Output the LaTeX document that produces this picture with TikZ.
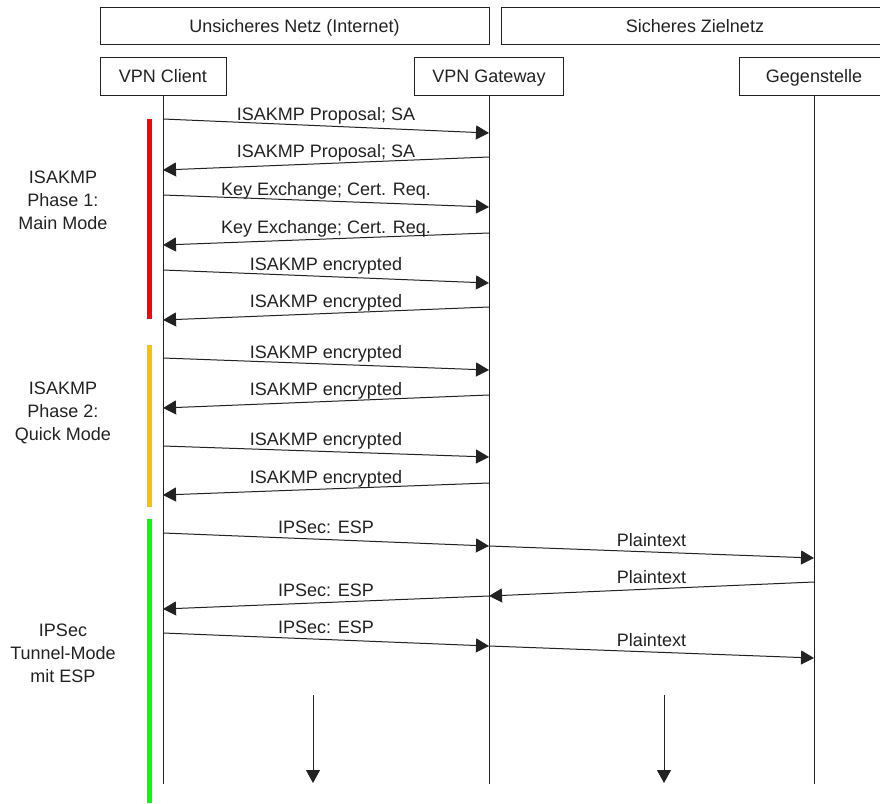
\documentclass[tikz,border=0pt]{standalone}
\usepackage{fontspec}
\setmainfont{Liberation Sans}
\usetikzlibrary{arrows.meta}
\definecolor{inkc}{HTML}{222222}
\definecolor{barred}{HTML}{FF0000}
\definecolor{barorange}{HTML}{FFC000}
\definecolor{bargreen}{HTML}{00FF00}
\tikzset{
  box/.style={draw=inkc, line width=1pt, inner sep=0pt, minimum height=37pt, text=inkc, text height=13pt, text depth=0pt},
  head/.style={box, minimum height=38pt},
  life/.style={draw=inkc, line width=1pt},
  msg/.style={draw=inkc, line width=1pt, -{Triangle[length=13pt,width=14pt]}},
  msglabel/.style={midway, anchor=base, yshift=6pt, text=inkc, inner sep=0pt},
  phaselabel/.style={align=center, text=inkc, inner sep=0pt},
  bar/.style={line width=5pt}
}
\newcommand\msgarrow[5]{\draw[msg] (#1 |- 0,#2) -- (#3 |- 0,#4) node[msglabel] {#5};}
\begin{document}
\begin{tikzpicture}[x=1pt, y=-1pt, font=\fontsize{18}{23}\selectfont]
\useasboundingbox (0,0) rectangle (880,803);
\clip (0,0) rectangle (880,803);
% zone boxes
\node[box, minimum width=389pt] (unsafe) at (294.5,25.5) {Unsicheres Netz (Internet)};
\node[box, minimum width=388pt] (safe) at (695,25.5) {Sicheres Zielnetz};
% participants
\node[head, minimum width=126pt] (client) at (163,76) {VPN Client};
\node[head, minimum width=149pt] (gw) at (489,76) {VPN Gateway};
\node[head, minimum width=150pt] (peer) at (814,76) {Gegenstelle};
% lifelines
\draw[life] (client.south) -- (client |- 0,784);
\draw[life] (gw.south) -- (gw |- 0,784);
\draw[life] (peer.south) -- (peer |- 0,784);
% phase bars
\draw[bar, barred] (149.5,119) -- (149.5,319);
\draw[bar, barorange] (149.5,345) -- (149.5,507);
\draw[bar, bargreen] (149.5,519) -- (149.5,803);
% phase labels
\node[phaselabel] (ph1) at (63,200) {ISAKMP\\Phase 1:\\Main Mode};
\node[phaselabel] (ph2) at (63,413) {ISAKMP\\Phase 2:\\Quick Mode};
\node[phaselabel] (ph3) at (63,653) {IPSec\\Tunnel-Mode\\mit ESP};
% phase 1
\msgarrow{client}{119}{gw}{133}{ISAKMP Proposal; SA}
\msgarrow{gw}{157}{client}{170}{ISAKMP Proposal; SA}
\msgarrow{client}{195}{gw}{207}{Key Exchange; Cert. Req.}
\msgarrow{gw}{233}{client}{245}{Key Exchange; Cert. Req.}
\msgarrow{client}{270}{gw}{283}{ISAKMP encrypted}
\msgarrow{gw}{307}{client}{320}{ISAKMP encrypted}
% phase 2
\msgarrow{client}{358}{gw}{370}{ISAKMP encrypted}
\msgarrow{gw}{395}{client}{408}{ISAKMP encrypted}
\msgarrow{client}{446}{gw}{457}{ISAKMP encrypted}
\msgarrow{gw}{483}{client}{495}{ISAKMP encrypted}
% phase 3
\msgarrow{client}{533}{gw}{546}{IPSec: ESP}
\msgarrow{gw}{546}{peer}{558}{Plaintext}
\msgarrow{peer}{582}{gw}{596}{Plaintext}
\msgarrow{gw}{596}{client}{609}{IPSec: ESP}
\msgarrow{client}{633}{gw}{646}{IPSec: ESP}
\msgarrow{gw}{646}{peer}{658}{Plaintext}
% continuation arrows
\coordinate (d1s) at (313,695);
\coordinate (d1e) at (313,783);
\coordinate (d2s) at (664,695);
\coordinate (d2e) at (664,783);
\draw[msg] (d1s) -- (d1e);
\draw[msg] (d2s) -- (d2e);
\end{tikzpicture}
\end{document}
